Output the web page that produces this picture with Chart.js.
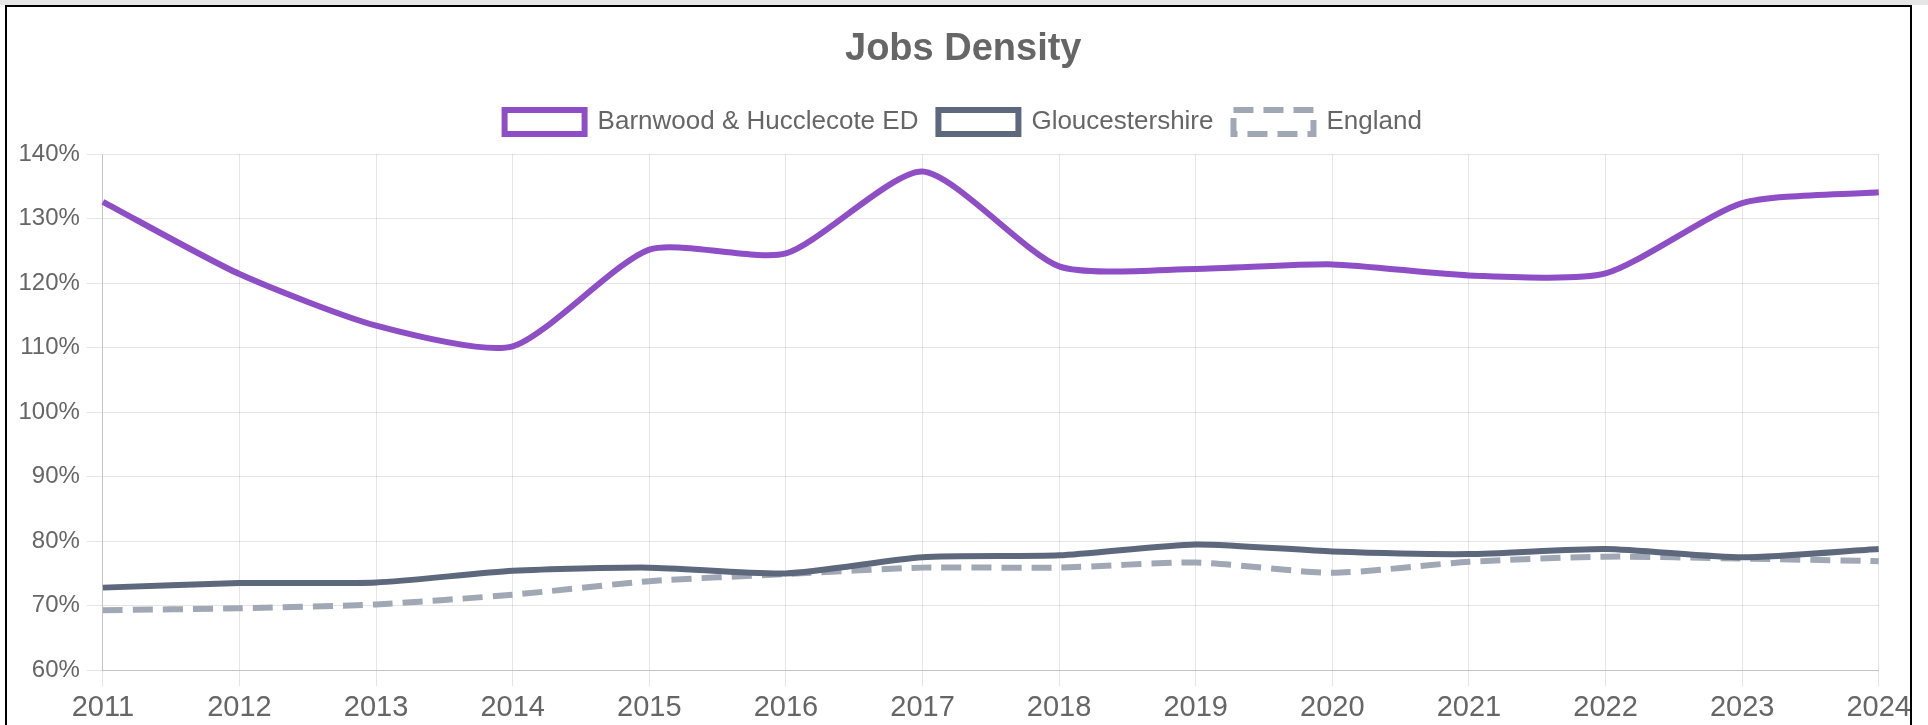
<!DOCTYPE html>
<html>
<head>
<meta charset="utf-8">
<script src="https://cdn.jsdelivr.net/npm/chart.js@4.4.0/dist/chart.umd.min.js"></script>
<style>
  html, body { margin: 0; padding: 0; background: #fff; overflow: hidden; }
  .strip { height: 5px; background: #e6e6e6; }
  .box {
    position: absolute; left: 5px; top: 5px;
    width: 1903px; height: 800px;
    border: 2px solid #000; background: #fff;
    overflow: hidden;
  }
  canvas { display: block; }
</style>
</head>
<body>
<div class="strip"></div>
<div class="box">
  <canvas id="chart" width="1908" height="722"></canvas>
</div>
<script>
const years = ['2011', '2012', '2013', '2014', '2015', '2016', '2017', '2018', '2019', '2020', '2021', '2022', '2023', '2024'];
const barnwood = [132.6, 121.4, 113.4, 110.2, 125.2, 124.6, 137.3, 122.6, 122.2, 122.9, 121.2, 121.5, 132.4, 134.1];
const gloucestershire = [72.8, 73.5, 73.6, 75.4, 75.9, 75.0, 77.5, 77.8, 79.5, 78.4, 78.0, 78.8, 77.5, 78.8];
const england = [69.3, 69.6, 70.2, 71.7, 73.8, 74.9, 75.9, 75.9, 76.7, 75.1, 76.8, 77.6, 77.3, 76.9];
const yTicks = [60, 70, 80, 90, 100, 110, 120, 130, 140];

const fontFamily = 'Arial, "Liberation Sans", Helvetica, sans-serif';

// some extra room between legend and plot
const legendGap = {
  id: 'legendGap',
  beforeInit(chart) {
    const fit = chart.legend.fit;
    chart.legend.fit = function () {
      fit.bind(chart.legend)();
      this.height += 9;
    };
  },
};

const config = {
  type: 'line',
  plugins: [legendGap],
  data: {
    labels: years,
    datasets: [
      {
        label: 'Barnwood & Hucclecote ED',
        data: barnwood,
        borderColor: '#8e4ec6',
        backgroundColor: '#fff',
        borderWidth: 6,
        tension: 0.22,
        pointRadius: 0,
        fill: false,
      },
      {
        label: 'Gloucestershire',
        data: gloucestershire,
        borderColor: '#5e687c',
        backgroundColor: '#fff',
        borderWidth: 6,
        tension: 0.22,
        pointRadius: 0,
        fill: false,
      },
      {
        label: 'England',
        data: england,
        borderColor: '#a0a7b5',
        backgroundColor: '#fff',
        borderWidth: 6,
        borderDash: [20, 10],
        tension: 0.22,
        pointRadius: 0,
        fill: false,
      },
    ],
  },
  options: {
    responsive: false,
    animation: false,
    devicePixelRatio: 1,
    layout: {
      padding: { left: 4.5, right: 0, top: 0, bottom: 0 },
    },
    plugins: {
      title: {
        display: true,
        text: 'Jobs Density',
        color: '#666',
        font: { size: 38, weight: 'bold', family: fontFamily },
        padding: { top: 20, bottom: 16.5 },
      },
      legend: {
        display: true,
        labels: {
          color: '#666',
          boxWidth: 80,
          boxHeight: 24,
          padding: 20,
          font: { size: 26, family: fontFamily },
        },
      },
      tooltip: { enabled: false },
    },
    scales: {
      x: {
        grid: { color: 'rgba(0, 0, 0, 0.1)', lineWidth: 1, tickLength: 16 },
        border: { color: 'rgba(0, 0, 0, 0.15)' },
        ticks: {
          color: '#666',
          maxRotation: 0,
          padding: 4,
          font: { size: 29, family: fontFamily },
        },
      },
      y: {
        min: yTicks[0],
        max: yTicks[yTicks.length - 1],
        grid: { color: 'rgba(0, 0, 0, 0.1)', lineWidth: 1, tickLength: 16 },
        border: { color: 'rgba(0, 0, 0, 0.15)' },
        afterBuildTicks: (axis) => {
          axis.ticks = yTicks.map((v) => ({ value: v }));
        },
        ticks: {
          color: '#666',
          padding: 7,
          font: { size: 24, family: fontFamily },
          callback: (v) => v + '%',
        },
      },
    },
  },
};

new Chart(document.getElementById('chart'), config);
</script>
</body>
</html>
